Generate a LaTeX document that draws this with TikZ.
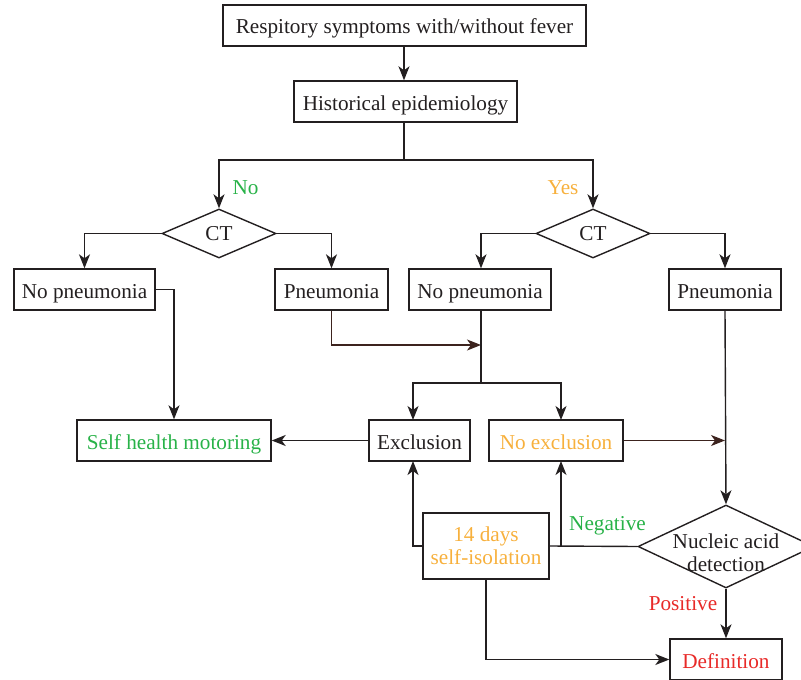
\documentclass[tikz,border=0pt]{standalone}
\usepackage{fontspec}
\setmainfont{Liberation Serif}
\usetikzlibrary{arrows.meta,shapes.geometric}
\definecolor{lgreen}{RGB}{40,178,72}
\definecolor{lorange}{RGB}{247,176,60}
\definecolor{lred}{RGB}{232,42,40}
\definecolor{lline}{RGB}{35,31,32}
\definecolor{lbrown}{RGB}{60,35,30}
\begin{document}
\begin{tikzpicture}[x=1pt,y=-1pt,
  font=\fontsize{21.2}{23}\selectfont,
  every node/.style={text=lline},
  box/.style={draw=lline,line width=1.4pt,rectangle,inner sep=0pt,minimum height=41pt,text height=19.5pt,text depth=2.5pt},
  mbox/.style={draw=lline,line width=1.4pt,rectangle,inner sep=0pt,align=center},
  dia/.style={draw=lline,line width=1.4pt,diamond,inner sep=0pt,align=center},
  conn/.style={draw=lline,line width=1.4pt},
  arr/.style={conn,-{Stealth[length=14pt,width=11pt,inset=4pt]}},
  lab/.style={inner sep=0pt}]
\useasboundingbox (0,0) rectangle (801,680);
% nodes
\node[box,minimum width=363pt] (top) at (404.5,25.5) {Respitory symptoms with/without fever};
\node[box,minimum width=223pt] (hist) at (405.5,101.5) {Historical epidemiology};
\node[dia,minimum width=114pt,minimum height=49pt] (ct1) at (219,233.5) {CT};
\node[dia,minimum width=114pt,minimum height=49pt] (ct2) at (593,233.5) {CT};
\node[box,minimum width=141pt] (np1) at (84.5,289.5) {No pneumonia};
\node[box,minimum width=113pt] (pn1) at (331.5,289.5) {Pneumonia};
\node[box,minimum width=142pt] (np2) at (480,289.5) {No pneumonia};
\node[box,minimum width=112pt] (pn2) at (725,289.5) {Pneumonia};
\node[box,minimum width=194pt,text=lgreen] (shm) at (174,440.5) {Self health motoring};
\node[box,minimum width=101pt] (excl) at (419.5,440.5) {Exclusion};
\node[box,minimum width=134pt,text=lorange] (noex) at (556,440.5) {No exclusion};
\node[dia,minimum width=176pt,minimum height=83pt] (nad) at (726,546.5) {};
\node[lab,align=center] (nadt) at (726,553) {Nucleic acid\\detection};
\node[mbox,minimum width=126pt,minimum height=66pt,text=lorange] (iso) at (486,546) {14 days\\self-isolation};
\node[box,minimum width=112pt,text=lred] (def) at (726,659.5) {Definition};
% labels
\node[lab,text=lgreen] (lno) at (245.5,188) {No};
\node[lab,text=lorange] (lyes) at (563,188) {Yes};
\node[lab,text=lgreen] (lneg) at (607.5,526) {Negative};
\node[lab,text=lred] (lpos) at (683,604) {Positive};
% coordinates
\coordinate (h1) at (404,160);
\coordinate (j1) at (481,345);
\coordinate (b1) at (481,383);
\coordinate (exN) at (413,420);
\coordinate (exS) at (413,461);
\coordinate (noN) at (561,420);
\coordinate (noS) at (561,461);
% connectors
\draw[arr] (top.south -| 404,0) -- (hist.north -| 404,0);
\draw[conn] (hist.south -| 404,0) -- (h1);
\draw[arr] (h1) -| (ct1.north);
\draw[arr] (h1) -| (ct2.north);
\draw[arr] (ct1.west) -| (np1.north);
\draw[arr] (ct1.east) -| (pn1.north);
\draw[arr] (ct2.west) -| (np2.north -| 481,0);
\draw[arr] (ct2.east) -| (pn2.north);
\draw[arr] (np1.east) -| (shm.north);
\draw[arr,draw=lbrown] (pn1.south) |- (j1);
\draw[conn] (np2.south -| 481,0) -- (b1);
\draw[arr] (b1) -| (exN);
\draw[arr] (b1) -| (noN);
\draw[arr] (excl.west) -- (shm.east);
\draw[arr,draw=lbrown] (noex.east) -- (noex.east -| pn2.south);
\draw[arr] (pn2.south) -- (nad.north);
\draw[conn] (nad.west) -- (iso.east);
\draw[arr] (iso.east -| noS) -- (noS);
\draw[arr] (iso.west) -| (exS);
\draw[arr] (iso.south) |- (def.west);
\draw[arr] (nad.south) -- (def.north);
\end{tikzpicture}
\end{document}
